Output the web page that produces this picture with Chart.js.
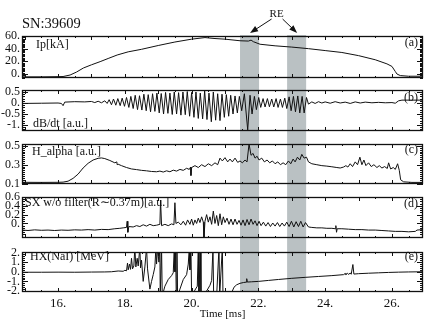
<!DOCTYPE html>
<html>
<head>
<meta charset="utf-8">
<script src="https://cdn.jsdelivr.net/npm/chart.js@4.4.1/dist/chart.umd.min.js"></script>
<style>
  html, body { margin: 0; padding: 0; background: #fff; }
  #wrap { position: relative; width: 434px; height: 322px; }
  #wrap canvas { position: absolute; left: 0; top: 0; }
</style>
</head>
<body>
<div id="wrap">
  <canvas id="pe" width="434" height="322"></canvas>
  <canvas id="pd" width="434" height="322"></canvas>
  <canvas id="pc" width="434" height="322"></canvas>
  <canvas id="pb" width="434" height="322"></canvas>
  <canvas id="pa" width="434" height="322"></canvas>
</div>
<script>
// ── data (time in ms) ───────────────────────────────────────────────────
const xTicks = [16, 18, 20, 22, 24, 26];
const reBands = [[21.45, 22.02], [22.86, 23.43]];
const reArrowTips = [21.75, 23.16];

// (a) plasma current
const ipTicks = [0, 20, 40, 60];
const ipTime = [14.92, 15.5, 16.0, 16.15, 16.36, 16.55, 16.76, 17.0, 17.26, 17.5,
  17.77, 18.1, 18.5, 19.0, 19.5, 20.0, 20.4, 20.7, 21.0, 21.45,
  21.7, 21.78, 21.85, 22.05, 22.5, 23.0, 23.5, 24.0, 24.5, 25.0,
  25.5, 25.85, 26.0, 26.1, 26.15, 26.25, 26.5, 26.93];
const ipVal = [-4.5, -4.5, -4.2, -4, -1.6, 3, 9.5, 14.5, 19.5, 24.5,
  30, 35, 39, 45, 50.5, 55, 57.5, 56, 55, 52.5,
  52, 53.5, 51, 47, 44.5, 42.5, 40, 37, 34, 29,
  22.5, 16, 12, 4, 0, -2.5, -3.5, -3.5];

// (b) dB/dt
const dbTicks = [-1, -0.5, 0, 0.5];
const dbTime = [14.92, 15.5, 16.0, 16.1, 16.15, 16.2, 16.5, 16.8, 17.0, 17.1, 17.2, 17.3, 17.4, 17.47,
  17.53, 17.6, 17.66, 17.73, 17.79, 17.86, 17.92, 17.99, 18.05, 18.12,
  18.18, 18.25, 18.31, 18.38, 18.44, 18.51, 18.57, 18.64, 18.70, 18.77,
  18.83, 18.90, 18.96, 19.03, 19.09, 19.16, 19.22, 19.29, 19.35, 19.42,
  19.48, 19.55, 19.61, 19.68, 19.74, 19.81, 19.87, 19.94, 20.0, 20.07,
  20.13, 20.2, 20.26, 20.33, 20.39, 20.46, 20.52, 20.59, 20.65, 20.72,
  20.78, 20.85, 20.91, 20.98, 21.04, 21.11, 21.17, 21.24, 21.30, 21.37,
  21.43, 21.5, 21.58, 21.68, 21.75, 21.81, 21.88, 21.94, 22.01, 22.07,
  22.14, 22.2, 22.27, 22.33, 22.4, 22.46, 22.53, 22.59, 22.66, 22.72,
  22.79, 22.85, 22.92, 22.98, 23.05, 23.11, 23.18, 23.24, 23.31, 23.37,
  23.44, 23.5,
  23.6, 23.7, 23.8, 23.9, 24.0, 24.15, 24.3, 24.45, 24.6, 24.75, 24.9,
  25.05, 25.2, 25.4, 25.6, 25.8, 26.0, 26.1, 26.2, 26.3, 26.93];
const dbVal = [-0.02, -0.01, 0.0, -0.02, -0.12, 0.04, 0.06, 0.05, 0.07, 0.02, 0.08, 0.01, 0.1, -0.02,
  0.15, -0.08, 0.18, -0.1, 0.2, -0.12, 0.22, -0.15, 0.25, -0.2,
  0.3, -0.25, 0.35, -0.3, 0.33, -0.32, 0.4, -0.35, 0.38, -0.4,
  0.42, -0.38, 0.45, -0.45, 0.43, -0.5, 0.48, -0.47, 0.45, -0.52,
  0.5, -0.5, 0.47, -0.55, 0.5, -0.53, 0.52, -0.6, 0.48, -0.65,
  0.5, -0.7, 0.45, -0.72, 0.55, -0.75, 0.45, -0.85, 0.5, -0.78,
  0.42, -0.8, 0.4, -0.65, 0.38, -0.6, 0.35, -0.5, 0.32, -0.45,
  0.3, -0.35, 0.42, -1.22, 0.35, -0.5, 0.3, -0.3, 0.25, -0.2,
  0.2, -0.18, 0.2, -0.17, 0.18, -0.18, 0.2, -0.2, 0.18, -0.2,
  0.22, -0.25, 0.28, -0.35, 0.3, -0.4, 0.32, -0.45, 0.3, -0.45,
  0.25, -0.05,
  0.05, -0.02, 0.06, 0.0, 0.05, -0.01, 0.06, 0.0, 0.04, -0.02, 0.05,
  0.0, 0.04, 0.01, 0.03, 0.01, 0.02, -0.01, 0.1, 0.13, 0.13];

// (c) H_alpha
const haTicks = [0.1, 0.3, 0.5];
const haTime = [14.92, 15.5, 16.0, 16.15, 16.3, 16.45, 16.6, 16.75, 16.9, 17.05,
  17.2, 17.3, 17.4, 17.55, 17.7, 17.76, 17.77, 17.8, 17.9, 18.05,
  18.2, 18.35, 18.5, 18.65, 18.8, 18.95, 19.05, 19.15, 19.25, 19.35,
  19.45, 19.55, 19.65, 19.75, 19.85, 19.93, 19.97, 19.98, 20.0, 20.1,
  20.2, 20.3, 20.4, 20.5, 20.6, 20.7, 20.78, 20.85, 20.92, 21.0,
  21.08, 21.15, 21.22, 21.3, 21.38, 21.45, 21.52, 21.6, 21.66, 21.72,
  21.78, 21.84, 21.9, 21.96, 22.02, 22.1, 22.18, 22.26, 22.34, 22.42,
  22.5, 22.58, 22.66, 22.74, 22.82, 22.9, 22.97, 23.04, 23.1, 23.17,
  23.24, 23.3, 23.37, 23.44, 23.5, 23.6, 23.75, 23.9, 24.05, 24.2,
  24.35, 24.45, 24.55, 24.62, 24.68, 24.75, 24.82, 24.9, 24.97, 25.04,
  25.1, 25.16, 25.22, 25.3, 25.38, 25.46, 25.55, 25.62, 25.7, 25.78,
  25.86, 25.9, 25.96, 26.04, 26.1, 26.17, 26.22, 26.26, 26.35, 26.6,
  26.93];
const haVal = [0.113, 0.112, 0.113, 0.115, 0.125, 0.155, 0.2, 0.265, 0.315, 0.35,
  0.368, 0.372, 0.365, 0.345, 0.32, 0.33, 0.3, 0.305, 0.29, 0.27,
  0.255, 0.248, 0.24, 0.235, 0.228, 0.225, 0.232, 0.222, 0.235, 0.225,
  0.242, 0.232, 0.25, 0.24, 0.262, 0.25, 0.275, 0.185, 0.27, 0.29,
  0.27, 0.3, 0.28, 0.31, 0.29, 0.32, 0.3, 0.37, 0.34, 0.375,
  0.33, 0.36, 0.33, 0.37, 0.325, 0.34, 0.32, 0.35, 0.33, 0.52,
  0.4, 0.42, 0.37, 0.39, 0.35, 0.37, 0.33, 0.35, 0.32, 0.34,
  0.31, 0.33, 0.3, 0.32, 0.3, 0.34, 0.31, 0.36, 0.33, 0.38,
  0.35, 0.41, 0.37, 0.38, 0.33, 0.31, 0.3, 0.29, 0.285, 0.278,
  0.27, 0.265, 0.275, 0.29, 0.275, 0.31, 0.28, 0.33, 0.3, 0.38,
  0.3, 0.35, 0.29, 0.32, 0.28, 0.3, 0.27, 0.29, 0.265, 0.28,
  0.26, 0.32, 0.255, 0.27, 0.25, 0.31, 0.24, 0.14, 0.118, 0.112,
  0.112];

// (d) SX without filter
const sxTicks = [0, 0.2, 0.4, 0.6];
const sxTime = [14.92, 15.1, 15.3, 15.5, 15.7, 15.9, 16.1, 16.3, 16.5, 16.7,
  16.9, 17.1, 17.3, 17.5, 17.7, 17.85, 17.95, 18.05, 18.07, 18.09,
  18.12, 18.25, 18.35, 18.45, 18.55, 18.65, 18.75, 18.85, 18.95, 19.05,
  19.07, 19.1, 19.2, 19.3, 19.4, 19.47, 19.5, 19.53, 19.6, 19.68,
  19.75, 19.82, 19.88, 19.95, 20.0, 20.05, 20.1, 20.15, 20.2, 20.25,
  20.3, 20.35, 20.37, 20.4, 20.45, 20.5, 20.55, 20.6, 20.65, 20.7,
  20.75, 20.8, 20.85, 20.9, 20.95, 21.0, 21.06, 21.12, 21.18, 21.24,
  21.3, 21.36, 21.42, 21.48, 21.54, 21.6, 21.66, 21.72, 21.78, 21.84,
  21.9, 21.96, 22.02, 22.08, 22.15, 22.22, 22.29, 22.36, 22.43, 22.5,
  22.57, 22.64, 22.71, 22.78, 22.85, 22.92, 22.99, 23.06, 23.13, 23.2,
  23.27, 23.34, 23.41, 23.5, 23.6, 23.75, 23.9, 24.05, 24.2, 24.3,
  24.32, 24.34, 24.36, 24.5, 24.7, 24.9, 25.1, 25.3, 25.5, 25.7,
  25.9, 26.1, 26.3, 26.5, 26.7, 26.75, 26.93];
const sxVal = [-0.15, -0.16, -0.145, -0.155, -0.15, -0.16, -0.15, -0.155, -0.145, -0.15,
  -0.14, -0.15, -0.135, -0.14, -0.12, -0.11, -0.1, -0.09, 0.05, -0.2,
  -0.07, -0.08, -0.05, -0.07, -0.03, -0.06, -0.02, -0.05, -0.04, -0.02,
  0.53, -0.05, -0.02, -0.05, -0.01, -0.03, 0.47, 0.0, 0.03, -0.03,
  0.05, -0.04, 0.08, -0.02, 0.1, -0.04, 0.08, 0.0, 0.12, 0.02,
  0.15, 0.03, -0.33, 0.05, 0.2, 0.03, 0.15, -0.02, 0.28, 0.0,
  0.18, -0.05, 0.22, -0.03, 0.15, 0.02, 0.12, -0.02, 0.1, -0.03,
  0.1, -0.02, 0.07, -0.04, 0.08, -0.05, 0.09, -0.03, 0.1, -0.02,
  0.06, -0.05, 0.05, -0.05, 0.03, -0.06, 0.02, -0.07, 0.01, -0.06,
  0.02, -0.07, 0.01, -0.06, 0.03, -0.07, 0.05, -0.08, 0.04, -0.07,
  0.05, -0.08, 0.02, -0.08, -0.09, -0.1, -0.1, -0.11, -0.11, -0.12,
  -0.05, -0.2, -0.12, -0.12, -0.13, -0.14, -0.14, -0.15, -0.15, -0.16,
  -0.17, -0.18, -0.18, -0.19, -0.18, -0.15, -0.14];

// (e) HX (NaI)
const hxTicks = [-2, -1, 0, 1, 2];
const hxTime = [14.92, 15.5, 16.0, 16.5, 17.0, 17.4, 17.6, 17.8, 17.95, 18.0,
  18.05, 18.08, 18.1, 18.14, 18.17, 18.2, 18.23, 18.27, 18.3, 18.33,
  18.37, 18.4, 18.45, 18.47, 18.5, 18.55, 18.6, 18.65, 18.68, 18.75,
  18.8, 18.85, 18.9, 18.93, 18.95, 18.98, 19.02, 19.05, 19.06, 19.08,
  19.1, 19.12, 19.2, 19.3, 19.4, 19.45, 19.48, 19.5, 19.52, 19.54,
  19.56, 19.58, 19.65, 19.75, 19.85, 19.9, 19.93, 19.95, 19.98, 20.0,
  20.1, 20.17, 20.2, 20.22, 20.26, 20.28, 20.45, 20.55, 20.6, 20.64,
  20.66, 20.75, 20.82, 20.84, 20.92, 20.94, 21.2, 21.22, 21.27, 21.35,
  21.45, 21.55, 21.63, 21.65, 21.67, 21.8, 22.0, 22.3, 22.6, 23.0,
  23.4, 23.8, 24.2, 24.55, 24.6, 24.62, 24.67, 24.7, 24.75, 24.78,
  24.83, 24.86, 25.0, 25.3, 25.6, 25.9, 26.2, 26.5, 26.93];
const hxVal = [-0.05, -0.05, -0.04, -0.05, -0.03, -0.02, 0.0, 0.08, 0.05, 0.15,
  0.1, 0.9, 0.2, 0.8, 0.25, 1.4, 0.3, 0.6, 2.5, 0.5,
  1.4, 0.6, 2.5, 0.4, 1.2, -1.0, 0.5, 2.5, 0.3, -1.8,
  -1.0, -0.3, 0.5, 2.5, 0.8, 2.5, 1.0, 2.5, -2.5, -2.5,
  2.5, -2.5, -1.5, -0.8, -0.4, -0.1, 2.5, 0.0, 2.5, -2.5,
  2.5, -2.5, -1.8, -0.8, -0.3, 0.8, 2.5, 0.2, 2.5, -2.5,
  -1.9, -1.5, 2.5, -2.5, 2.5, -2.5, -2.0, -1.4, -0.9, 2.5,
  -2.5, -2.5, 2.5, -2.5, 2.5, -2.5, -2.5, -2.0, -1.6, -1.35,
  -1.2, -1.12, -1.08, -0.72, -1.07, -1.04, -1.0, -0.9, -0.8, -0.68,
  -0.58, -0.49, -0.4, -0.3, -0.18, -0.29, -0.15, -0.28, -0.13, -0.26,
  0.75, -0.24, -0.2, -0.15, -0.11, -0.07, -0.04, -0.02, 0.0];

// ── layout ──────────────────────────────────────────────────────────────
const W = 434, H = 322, PLOT_RIGHT = 423, AXIS_W = 22;
const X_MIN = 14.92, X_MAX = 26.93;
const FONT = '"Liberation Serif", "Times New Roman", serif';
const INK = '#111';

const panels = [
  { id: 'pa', top: 36, bottom: 78, min: -6.3, max: 60, minor: 2, ticks: ipTicks, time: ipTime, val: ipVal,
    name: 'Ip[kA]', nx: 14, ny: 9, tag: '(a)', ty: 7 },
  { id: 'pb', top: 90, bottom: 131, min: -1.27, max: 0.59, minor: 0.1, ticks: dbTicks, time: dbTime, val: dbVal,
    name: 'dB/dt [a.u.]', nx: 11, ny: 34, tag: '(b)', ty: 8 },
  { id: 'pc', top: 144, bottom: 184, min: 0.095, max: 0.52, minor: 0.02, ticks: haTicks, time: haTime, val: haVal,
    name: 'H_alpha [a.u.]', nx: 10, ny: 8, tag: '(c)', ty: 6 },
  { id: 'pd', top: 197, bottom: 238, min: -0.33, max: 0.6, minor: 0.05, ticks: sxTicks, time: sxTime, val: sxVal,
    name: 'SX w/o filter(R\u223C0.37m)[a.u.]', nx: 3, ny: 6, tag: '(d)', ty: 7 },
  { id: 'pe', top: 252, bottom: 292, min: -2.1, max: 2.05, minor: 0.2, ticks: hxTicks, time: hxTime, val: hxVal,
    name: 'HX(NaI) [MeV]', nx: 8, ny: 5, tag: '(e)', ty: 5 }
];

// Mathematica style numbers: "60.", "0.", "0.5"
const fmt = v => Number.isInteger(v) ? v + '.' : String(v);

// frame, inward ticks and the in-panel texts
function framePlugin(p) {
  return {
    id: 'frame_' + p.id,
    afterDatasetsDraw(chart) {
      const { ctx, chartArea: a, scales: { x, y } } = chart;
      ctx.save();
      ctx.strokeStyle = INK;
      ctx.lineWidth = 1;
      ctx.beginPath();
      for (let t = 15; t <= 26.9; t += 0.5) {
        const px = Math.round(x.getPixelForValue(t)) + 0.5;
        const len = Number.isInteger(t) ? 4 : 2;
        ctx.moveTo(px, a.top); ctx.lineTo(px, a.top + len);
        ctx.moveTo(px, a.bottom); ctx.lineTo(px, a.bottom - len);
      }
      for (let i = Math.ceil(p.min / p.minor - 1e-6); i * p.minor <= p.max + 1e-9; i++) {
        const v = i * p.minor;
        const py = Math.round(y.getPixelForValue(v)) + 0.5;
        const major = p.ticks.some(t => Math.abs(t - v) < 1e-6);
        const len = major ? 6 : 3;
        ctx.moveTo(a.left, py); ctx.lineTo(a.left + len, py);
        ctx.moveTo(a.right, py); ctx.lineTo(a.right - len, py);
      }
      ctx.stroke();
      ctx.lineWidth = 1.3;
      ctx.strokeRect(a.left + 0.5, a.top + 0.5, a.right - a.left - 1, a.bottom - a.top - 1);

      ctx.fillStyle = INK;
      ctx.font = '12px ' + FONT;
      ctx.textBaseline = 'middle';
      ctx.textAlign = 'left';
      ctx.fillText(p.name, a.left + p.nx, a.top + p.ny);
      ctx.textAlign = 'right';
      ctx.fillText(p.tag, a.right - 5, a.top + p.ty);
      ctx.restore();
    }
  };
}

// grey RE windows, drawn once behind all panels
const bandPlugin = {
  id: 'reBands',
  beforeDatasetsDraw(chart) {
    const { ctx, chartArea: a, scales: { x } } = chart;
    ctx.save();
    ctx.fillStyle = 'rgb(186,193,195)';
    reBands.forEach(([t0, t1]) => {
      const x0 = x.getPixelForValue(t0), x1 = x.getPixelForValue(t1);
      ctx.fillRect(x0, panels[0].top - 1, x1 - x0, a.bottom - panels[0].top + 1);
    });
    ctx.restore();
  }
};

// shot number and the "RE" arrows on top panel
const headPlugin = {
  id: 'head',
  afterDraw(chart) {
    const { ctx, chartArea: a, scales: { x } } = chart;
    ctx.save();
    ctx.fillStyle = INK;
    ctx.strokeStyle = INK;
    ctx.textBaseline = 'middle';
    ctx.font = '14.5px ' + FONT;
    ctx.textAlign = 'left';
    ctx.fillText('SN:39609', a.left, 24);

    const mid = (x.getPixelForValue(reArrowTips[0]) + x.getPixelForValue(reArrowTips[1])) / 2 + 3;
    ctx.font = '11px ' + FONT;
    ctx.textAlign = 'center';
    ctx.fillText('RE', mid, 14);
    const tails = [mid - 5, mid + 6];
    reArrowTips.forEach((t, i) => {
      const x0 = tails[i], y0 = 19, x1 = x.getPixelForValue(t), y1 = a.top - 3;
      const ang = Math.atan2(y1 - y0, x1 - x0);
      ctx.lineWidth = 1;
      ctx.beginPath();
      ctx.moveTo(x0, y0);
      ctx.lineTo(x1 - 5 * Math.cos(ang), y1 - 5 * Math.sin(ang));
      ctx.stroke();
      ctx.beginPath();
      ctx.moveTo(x1, y1);
      ctx.lineTo(x1 - 8 * Math.cos(ang) + 3 * Math.sin(ang), y1 - 8 * Math.sin(ang) - 3 * Math.cos(ang));
      ctx.lineTo(x1 - 8 * Math.cos(ang) - 3 * Math.sin(ang), y1 - 8 * Math.sin(ang) + 3 * Math.cos(ang));
      ctx.closePath();
      ctx.fill();
    });
    ctx.restore();
  }
};

panels.forEach((p, idx) => {
  const isBottom = idx === panels.length - 1;
  const extra = [framePlugin(p)];
  if (isBottom) extra.unshift(bandPlugin);
  if (idx === 0) extra.push(headPlugin);

  new Chart(document.getElementById(p.id), {
    type: 'line',
    data: {
      datasets: [{
        data: p.time.map((t, i) => ({ x: t, y: p.val[i] })),
        borderColor: INK,
        borderWidth: 1,
        pointRadius: 0,
        tension: 0
      }]
    },
    options: {
      responsive: false,
      animation: false,
      events: [],
      layout: { padding: { top: p.top, bottom: isBottom ? 0 : H - p.bottom, left: 0, right: W - PLOT_RIGHT } },
      plugins: { legend: { display: false }, tooltip: { enabled: false } },
      scales: {
        x: {
          type: 'linear',
          min: X_MIN,
          max: X_MAX,
          display: isBottom,
          afterBuildTicks: s => { s.ticks = xTicks.map(v => ({ value: v })); },
          afterFit: s => { s.height = isBottom ? H - p.bottom : 0; },
          grid: { display: false, drawTicks: false },
          border: { display: false },
          ticks: { callback: v => fmt(v), font: { family: FONT, size: 13 }, color: INK, padding: 4, maxRotation: 0, autoSkip: false },
          title: { display: true, text: 'Time [ms]', font: { family: FONT, size: 11 }, color: INK, padding: { top: 0, bottom: 1 } }
        },
        y: {
          min: p.min,
          max: p.max,
          afterBuildTicks: s => { s.ticks = p.ticks.map(v => ({ value: v })); },
          afterFit: s => { s.width = AXIS_W; },
          grid: { display: false, drawTicks: false },
          border: { display: false },
          ticks: { callback: v => fmt(v), font: { family: FONT, size: 12 }, color: INK, padding: 2, autoSkip: false }
        }
      }
    },
    plugins: extra
  });
});
</script>
</body>
</html>
